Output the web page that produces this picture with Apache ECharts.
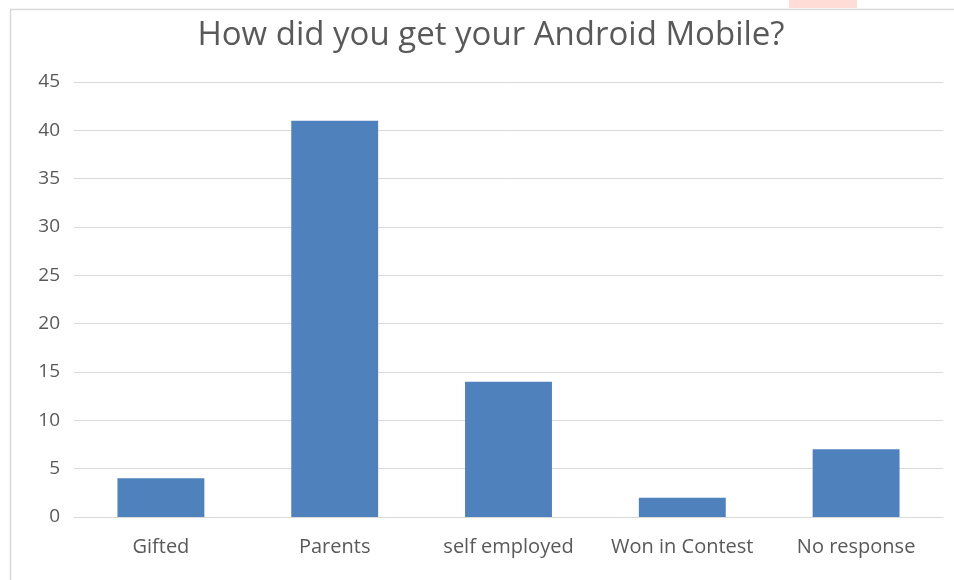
<!DOCTYPE html>
<html>
<head>
<meta charset="utf-8">
<script src="https://cdn.jsdelivr.net/npm/echarts@6/dist/echarts.min.js"></script>
<style>html,body{margin:0;padding:0;background:#fff}#c{width:954px;height:580px}</style>
</head>
<body>
<div id="c"></div>
<script>
const titleText = "How did you get your Android Mobile?";
const categories = ["Gifted", "Parents", "self employed", "Won in Contest", "No response"];
const values = [4, 41, 14, 2, 7];
const yTicks = [0, 5, 10, 15, 20, 25, 30, 35, 40, 45];

const chart = echarts.init(document.getElementById('c'), null, {renderer: 'canvas'});
chart.setOption({
  animation: false,
  backgroundColor: '#ffffff',
  title: {
    text: titleText,
    left: 486, top: 14, textAlign: 'center',
    textStyle: {fontFamily: 'Open Sans', fontSize: 33, fontWeight: 'normal', color: '#595959'}
  },
  graphic: [
    {type: 'rect', shape: {x: 10.5, y: 9.5, width: 2000, height: 1000}, style: {fill: 'none', stroke: '#d9d9d9', lineWidth: 1.5}, silent: true},
    {type: 'rect', shape: {x: 789, y: 0, width: 68, height: 8}, style: {fill: '#ffdcd6'}, silent: true}
  ],
  grid: {left: 74, right: 11, top: 82, bottom: 63, containLabel: false},
  xAxis: {
    type: 'category', data: categories,
    axisLine: {show: true, lineStyle: {color: '#d9d9d9', width: 1}},
    axisTick: {show: false},
    axisLabel: {color: '#595959', fontFamily: 'Open Sans', fontSize: 20, margin: 20, interval: 0}
  },
  yAxis: {
    type: 'value', min: yTicks[0], max: yTicks[yTicks.length - 1], interval: 5,
    axisLine: {show: false}, axisTick: {show: false},
    splitLine: {lineStyle: {color: '#d9d9d9', width: 1}},
    axisLabel: {color: '#595959', fontFamily: 'Open Sans', fontSize: 19, margin: 14}
  },
  series: [{
    type: 'bar', data: values, barWidth: '50%',
    itemStyle: {color: '#4f81bd'}
  }]
});
</script>
</body>
</html>
